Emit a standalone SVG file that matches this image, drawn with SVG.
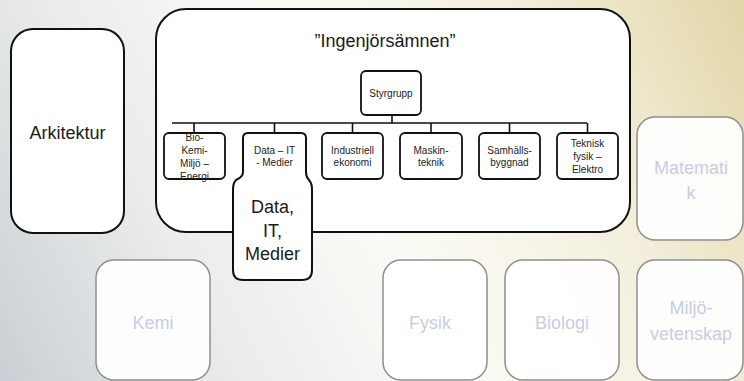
<svg xmlns="http://www.w3.org/2000/svg" width="744" height="381" viewBox="0 0 744 381">
<defs>
<linearGradient id="bg" x1="0" y1="381" x2="744" y2="0" gradientUnits="userSpaceOnUse">
<stop offset="0" stop-color="#c9cfd4"/>
<stop offset="0.25" stop-color="#eaeceb"/>
<stop offset="0.5" stop-color="#fbfbf6"/>
<stop offset="0.75" stop-color="#f3efdc"/>
<stop offset="1" stop-color="#e2d6a8"/>
</linearGradient>
<style>
text{font-family:"Liberation Sans",Arial,sans-serif;text-anchor:middle}
.main{fill:#fff;stroke:#111;stroke-width:2}
.child{fill:#fff;stroke:#111;stroke-width:1.8}
.big{font-size:18px;fill:#1a1a1a}
.small{font-size:10px;fill:#222}
.faded{fill:#fff;fill-opacity:0.92;stroke:#8e8e8e;stroke-width:1.5}
.ftxt{font-size:18px;fill:#c8cddf}
.conn{fill:none;stroke:#111;stroke-width:1.6}
</style>
</defs>
<rect x="0" y="0" width="744" height="381" fill="url(#bg)"/>

<g id="arkitektur">
<rect class="main" x="11" y="29" width="113" height="204" rx="22"/>
<text class="big" x="67.5" y="139">Arkitektur</text>
</g>

<g id="ingenjorsamnen">
<rect class="main" x="156" y="9" width="474" height="223" rx="30"/>
<text class="big" x="385" y="47">”Ingenjörsämnen”</text>
</g>

<g id="connectors">
<path class="conn" d="M392,115 V123 M172,123 H587 M194,123 V133 M274.5,123 V133 M352.5,123 V133 M431,123 V133 M509.5,123 V133 M587.5,123 V133"/>
</g>

<g id="styrgrupp">
<rect class="child" x="361" y="71" width="60" height="44" rx="5"/>
<text class="small" x="391" y="96.5">Styrgrupp</text>
</g>

<g id="bio">
<rect class="child" x="164" y="133" width="61" height="46" rx="5"/>
<text class="small" x="194.5" y="140.5">Bio-</text>
<text class="small" x="194.5" y="153.5">Kemi-</text>
<text class="small" x="194.5" y="166.5">Miljö –</text>
<text class="small" x="194.5" y="180">Energi</text>
</g>

<g id="data">
<path class="main" d="M243,138 Q243,133 248,133 H301 Q306,133 306,138 V172 Q306,177 309,180 Q312,183 312,190 V270 Q312,280 302,280 H243 Q233,280 233,270 V190 Q233,183 236,180 Q243,177 243,172 Z"/>
<text class="small" x="274.5" y="153.5">Data – IT</text>
<text class="small" x="274.5" y="166">- Medier</text>
<text class="big" x="272.5" y="213">Data,</text>
<text class="big" x="272.5" y="237">IT,</text>
<text class="big" x="272.5" y="260">Medier</text>
</g>

<g id="industriell">
<rect class="child" x="322" y="133" width="61" height="46" rx="5"/>
<text class="small" x="352.5" y="153.5">Industriell</text>
<text class="small" x="352.5" y="166">ekonomi</text>
</g>

<g id="maskin">
<rect class="child" x="400" y="133" width="62" height="46" rx="5"/>
<text class="small" x="431" y="153.5">Maskin-</text>
<text class="small" x="431" y="166">teknik</text>
</g>

<g id="samhalls">
<rect class="child" x="479" y="133" width="61" height="46" rx="5"/>
<text class="small" x="509.5" y="153.5">Samhälls-</text>
<text class="small" x="509.5" y="166">byggnad</text>
</g>

<g id="teknisk">
<rect class="child" x="557" y="133" width="61" height="46" rx="5"/>
<text class="small" x="587.5" y="146.5">Teknisk</text>
<text class="small" x="587.5" y="159.5">fysik –</text>
<text class="small" x="587.5" y="172.5">Elektro</text>
</g>

<g id="matematik">
<rect class="faded" x="637" y="117" width="106" height="123" rx="18"/>
<text class="ftxt" x="691" y="174">Matemati</text>
<text class="ftxt" x="691" y="199">k</text>
</g>

<g id="kemi">
<rect class="faded" x="96" y="260" width="114" height="120" rx="18"/>
<text class="ftxt" x="153" y="329">Kemi</text>
</g>

<g id="fysik">
<rect class="faded" x="383" y="260" width="104" height="120" rx="18"/>
<text class="ftxt" x="430" y="329">Fysik</text>
</g>

<g id="biologi">
<rect class="faded" x="505" y="260" width="114" height="120" rx="18"/>
<text class="ftxt" x="562" y="329">Biologi</text>
</g>

<g id="miljovetenskap">
<rect class="faded" x="637" y="260" width="106" height="120" rx="18"/>
<text class="ftxt" x="691" y="314">Miljö-</text>
<text class="ftxt" x="691" y="340">vetenskap</text>
</g>
</svg>
